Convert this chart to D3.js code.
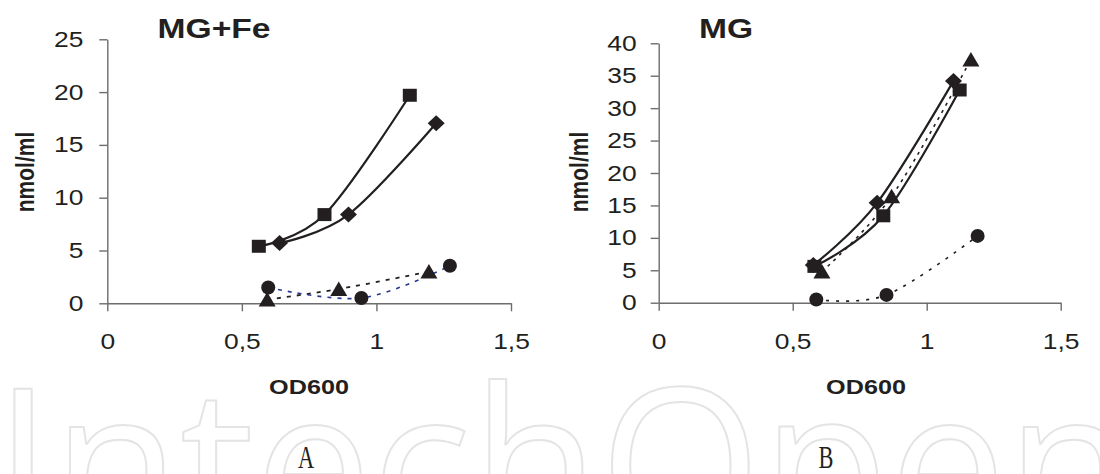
<!DOCTYPE html>
<html>
<head>
<meta charset="utf-8">
<script src="https://cdn.jsdelivr.net/npm/d3@7"></script>
<style>
  body { margin: 0; background: #fff; }
  svg { display: block; }
</style>
</head>
<body>
<div id="chart_box"></div>
<script>
// ticks
xTickValues = [0, 0.5, 1, 1.5]
xTickLabels = ["0", "0,5", "1", "1,5"]
yTicksA = [0, 5, 10, 15, 20, 25]
yTicksB = [0, 5, 10, 15, 20, 25, 30, 35, 40]

// panel A (MG+Fe)
aSquareX = [0.563, 0.807, 1.124]
aSquareY = [5.4, 8.4, 19.7]
aDiamondX = [0.64, 0.896, 1.222]
aDiamondY = [5.7, 8.4, 17.05]
aTriangleX = [0.594, 0.86, 1.195]
aTriangleY = [0.35, 1.35, 3.0]
aCircleX = [0.598, 0.944, 1.273]
aCircleY = [1.5, 0.5, 3.55]

// panel B (MG)
bDiamondX = [0.577, 0.815, 1.100]
bDiamondY = [5.8, 15.4, 34.2]
bSquareX = [0.581, 0.838, 1.123]
bSquareY = [5.6, 13.4, 32.8]
bTriangleX = [0.609, 0.869, 1.165]
bTriangleY = [4.8, 16.4, 37.5]
bCircleX = [0.588, 0.85, 1.19]
bCircleY = [0.5, 1.2, 10.3]

const ink = "#231f20"
const stretch = 1.2

const svg = d3.select("#chart_box").append("svg")
    .attr("width", 1100)
    .attr("height", 474)

// faint watermark at the bottom
svg.append("text")
    .attr("x", -6)
    .attr("y", 542)
    .attr("textLength", 1140)
    .attr("lengthAdjust", "spacingAndGlyphs")
    .attr("font-family", "Open Sans, Liberation Sans, sans-serif")
    .attr("font-size", 215)
    .attr("fill", "none")
    .attr("stroke", "#e4e4e4")
    .attr("stroke-width", 2)
    .text("IntechOpen")

function markerPath(shape) {
    if (shape == "square") return "M-7,-6.5H7V6.5H-7Z"
    if (shape == "diamond") return "M0,-8L8.5,0L0,8L-8.5,0Z"
    if (shape == "triangle") return "M0,-7.5L8.5,7H-8.5Z"
    return d3.symbol().type(d3.symbolCircle).size(Math.PI * 7 * 7)()
}

function drawPanel(cfg) {
    const x = d3.scaleLinear().domain([0, 1.5]).range([cfg.left, cfg.right])
    const y = d3.scaleLinear().domain([0, cfg.yMax]).range([cfg.bottom, cfg.top])

    const g = svg.append("g")

    // y axis
    const yAxis = g.append("g")
        .attr("transform", "translate(" + cfg.left + ",0)")
        .call(d3.axisLeft(y).tickValues(cfg.yTicks).tickSize(8).tickSizeOuter(0))
    yAxis.selectAll("text")
        .attr("x", -cfg.yGap / stretch)
        .attr("transform", "scale(" + stretch + ",1)")

    // x axis
    const xAxis = g.append("g")
        .attr("transform", "translate(0," + cfg.bottom + ")")
        .call(d3.axisBottom(x).tickValues(xTickValues).tickFormat((d, i) => xTickLabels[i]).tickSize(8).tickSizeOuter(0))
    xAxis.selectAll("text")
        .attr("y", 46)
        .attr("dy", 0)
        .attr("transform", "scale(" + stretch + ",1)")

    for (const ax of [xAxis, yAxis]) {
        ax.select(".domain").attr("stroke", "#6d6d6d").attr("stroke-width", 1.4)
        ax.selectAll(".tick line").attr("stroke", "#6d6d6d").attr("stroke-width", 1.4)
        ax.selectAll("text")
            .attr("fill", ink)
            .attr("font-family", "Liberation Sans, Arial, sans-serif")
            .attr("font-size", 22)
    }

    // title
    g.append("text")
        .attr("transform", "translate(" + cfg.titleX + ",38) scale(" + stretch + ",1)")
        .attr("text-anchor", "middle")
        .attr("font-family", "Liberation Sans, Arial, sans-serif")
        .attr("font-weight", "bold")
        .attr("font-size", 28)
        .attr("fill", ink)
        .text(cfg.title)

    // axis titles
    g.append("text")
        .attr("transform", "translate(" + cfg.yLabelX + ",172) rotate(-90) scale(1," + stretch + ")")
        .attr("text-anchor", "middle")
        .attr("dy", "0.35em")
        .attr("font-family", "Liberation Sans, Arial, sans-serif")
        .attr("font-weight", "bold")
        .attr("font-size", 21)
        .attr("fill", ink)
        .text("nmol/ml")

    g.append("text")
        .attr("transform", "translate(" + cfg.xLabelX + ",394) scale(" + stretch + ",1)")
        .attr("text-anchor", "middle")
        .attr("font-family", "Liberation Sans, Arial, sans-serif")
        .attr("font-weight", "bold")
        .attr("font-size", 21)
        .attr("fill", ink)
        .text("OD600")

    // series
    const line = d3.line()
        .x(d => x(d[0]))
        .y(d => y(d[1]))
        .curve(d3.curveCardinal.tension(0))

    for (const s of cfg.series) {
        const pts = s.xs.map((v, i) => [v, s.ys[i]])
        g.append("path")
            .attr("d", line(pts))
            .attr("fill", "none")
            .attr("stroke", s.color)
            .attr("stroke-width", s.width)
            .attr("stroke-dasharray", s.dash)
    }
    for (const s of cfg.series) {
        const pts = s.xs.map((v, i) => [v, s.ys[i]])
        g.append("g").selectAll("path")
            .data(pts)
            .join("path")
            .attr("d", markerPath(s.shape))
            .attr("transform", d => "translate(" + x(d[0]) + "," + y(d[1]) + ")")
            .attr("fill", ink)
    }

    // panel letter
    g.append("text")
        .attr("transform", "translate(" + cfg.letterX + ",468) scale(0.8,1.15)")
        .attr("text-anchor", "middle")
        .attr("font-family", "Liberation Serif, Times New Roman, serif")
        .attr("font-size", 28)
        .attr("fill", ink)
        .text(cfg.letter)
}

drawPanel({
    title: "MG+Fe", titleX: 214, letter: "A", letterX: 306,
    left: 107.3, right: 511, top: 39.3, bottom: 303.3, yMax: 25, yTicks: yTicksA,
    yGap: 24, yLabelX: 25, xLabelX: 309,
    series: [
        { xs: aSquareX, ys: aSquareY, shape: "square", color: ink, width: 2.2, dash: null },
        { xs: aDiamondX, ys: aDiamondY, shape: "diamond", color: ink, width: 2.2, dash: null },
        { xs: aTriangleX, ys: aTriangleY, shape: "triangle", color: ink, width: 1.8, dash: "4,6" },
        { xs: aCircleX, ys: aCircleY, shape: "circle", color: "#2b3990", width: 1.6, dash: "4,6" }
    ]
})

drawPanel({
    title: "MG", titleX: 726, letter: "B", letterX: 826,
    left: 658.7, right: 1060.7, top: 43.3, bottom: 302.7, yMax: 40, yTicks: yTicksB,
    yGap: 22, yLabelX: 579, xLabelX: 866,
    series: [
        { xs: bDiamondX, ys: bDiamondY, shape: "diamond", color: ink, width: 2.2, dash: null },
        { xs: bSquareX, ys: bSquareY, shape: "square", color: ink, width: 2.2, dash: null },
        { xs: bTriangleX, ys: bTriangleY, shape: "triangle", color: ink, width: 1.6, dash: "3,5" },
        { xs: bCircleX, ys: bCircleY, shape: "circle", color: ink, width: 1.6, dash: "3,7" }
    ]
})
</script>
</body>
</html>
